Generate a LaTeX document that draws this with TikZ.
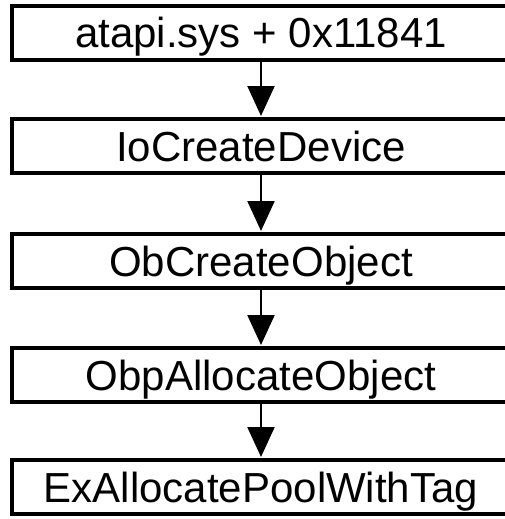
\documentclass[tikz,border=0pt]{standalone}
\usepackage{fontspec}
\setmainfont{Liberation Sans}
\usetikzlibrary{arrows.meta}
\begin{document}
\begin{tikzpicture}[x=1pt,y=-1pt,
  callbox/.style={draw=black, line width=4pt, fill=white, minimum width=498pt,
    minimum height=54pt, inner sep=0pt, text height=30pt, text depth=0pt,
    font=\fontsize{42}{42}\selectfont},
  callarrow/.style={line width=2.2pt, -{Triangle[length=30pt,width=27pt]}, shorten >=1pt}]
\useasboundingbox (0,0) rectangle (505,519);
\begin{scope}
\clip (0,0) rectangle (505,519);
\node[callbox] (n1) at (261,33) {atapi.sys + 0x11841};
\node[callbox] (n2) at (261,146) {IoCreateDevice};
\node[callbox] (n3) at (261,261) {ObCreateObject};
\node[callbox] (n4) at (261,375) {ObpAllocateObject};
\node[callbox] (n5) at (261,487) {ExAllocatePoolWithTag};
\draw[callarrow] (n1) -- (n2);
\draw[callarrow] (n2) -- (n3);
\draw[callarrow] (n3) -- (n4);
\draw[callarrow] (n4) -- (n5);
\end{scope}
\end{tikzpicture}
\end{document}
